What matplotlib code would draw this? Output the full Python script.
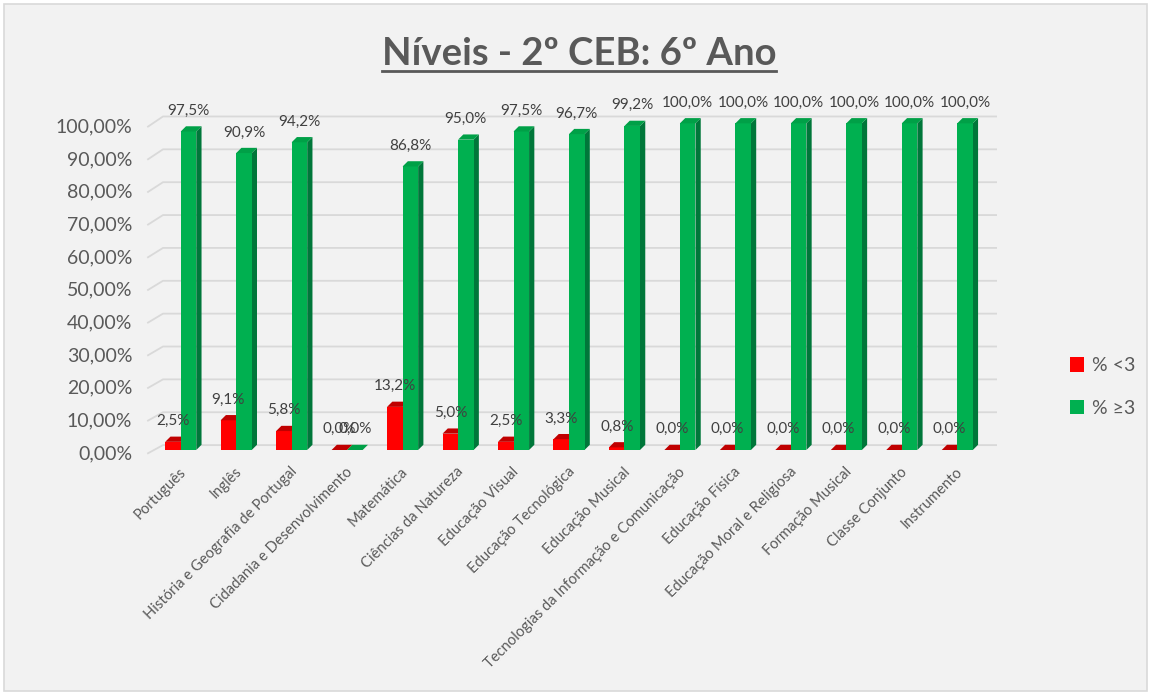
import numpy as np
import matplotlib
matplotlib.use("Agg")
import matplotlib.pyplot as plt
from matplotlib.patches import Polygon, Patch, Rectangle
from matplotlib.lines import Line2D
from matplotlib.transforms import ScaledTranslation

plt.rcParams['font.family'] = ['Lato', 'DejaVu Sans']

# ----------------------------
# DADOS
# ----------------------------
disciplinas = [
    "Português", "Inglês", "História e Geografia de Portugal",
    "Cidadania e Desenvolvimento", "Matemática", "Ciências da Natureza",
    "Educação Visual", "Educação Tecnológica", "Educação Musical",
    "Tecnologias da Informação e Comunicação", "Educação Física",
    "Educação Moral e Religiosa", "Formação Musical", "Classe Conjunto",
    "Instrumento",
]
abaixo_3 = [2.5, 9.1, 5.8, 0.0, 13.2, 5.0, 2.5, 3.3, 0.8, 0.0, 0.0, 0.0, 0.0, 0.0, 0.0]
acima_3 = [97.5, 90.9, 94.2, 0.0, 86.8, 95.0, 97.5, 96.7, 99.2, 100.0, 100.0, 100.0, 100.0, 100.0, 100.0]
series = ["% <3", "% ≥3"]
y_ticks = list(range(0, 101, 10))

# cores (frente, topo, lado)
cores = {
    "% <3": ("#FF0000", "#C00000", "#A80000"),
    "% ≥3": ("#00B050", "#00A047", "#00773A"),
}
txt_cinza = "#595959"

# ----------------------------
# FIGURA
# ----------------------------
W, H = 1152, 695
fig = plt.figure(figsize=(W / 100, H / 100), dpi=100, facecolor="white")
fig.patches.append(Rectangle((4 / W, 4 / H), 1143 / W, 687 / H, transform=fig.transFigure,
                             facecolor="#F2F2F2", edgecolor="#D9D9D9", lw=1.2, zorder=-10))

ax = fig.add_axes([153 / W, 1 - 450 / H, 832 / W, 343 / H])
ax.set_facecolor("none")
ax.set_xlim(-0.5, len(disciplinas) - 0.5)
ax.set_ylim(0, 105)
for s in ax.spines.values():
    s.set_visible(False)

# grelha "3D" (parede de fundo)
for v in y_ticks:
    yb = v + 1.5 + 0.006 * v
    ax.plot([-0.59, -0.32, 14.7], [v - 1.0, yb, yb], color="#D9D9D9", lw=1.3,
            clip_on=False, zorder=0)

larg = 0.28
dx, dy = 0.095, 1.6


def barra3d(x0, h, cor):
    frente, topo, lado = cor
    x1 = x0 + larg
    if h > 0:
        ax.add_patch(Polygon([(x1, 0), (x1 + dx, dy), (x1 + dx, h + dy), (x1, h)],
                             closed=True, facecolor=lado, edgecolor="none", zorder=2))
        ax.add_patch(Rectangle((x0, 0), larg, h, facecolor=frente, edgecolor="none", zorder=3))
    ax.add_patch(Polygon([(x0, h), (x0 + dx, h + dy), (x1 + dx, h + dy), (x1, h)],
                         closed=True, facecolor=topo, edgecolor="none", zorder=3))


x = np.arange(len(disciplinas))
for i in x:
    for k, (nome, vals) in enumerate(zip(series, [abaixo_3, acima_3])):
        x0 = i - larg + k * larg
        barra3d(x0, vals[i], cores[nome])
        ax.annotate(f"{vals[i]:.1f}%".replace(".", ","), (x0 + larg / 2, vals[i]),
                    xytext=(0, 12), textcoords="offset points", ha="center",
                    va="baseline", fontsize=11, color="#404040", zorder=5)

# eixo y
ax.set_yticks(y_ticks)
ax.set_yticklabels([f"{v:.2f}%".replace(".", ",") for v in y_ticks])
ax.tick_params(axis="y", length=0, pad=15, labelsize=14, labelcolor=txt_cinza)
for lbl in ax.get_yticklabels():
    lbl.set_transform(lbl.get_transform() + ScaledTranslation(0, -2 / 100, fig.dpi_scale_trans))

# eixo x
ax.set_xticks([])
for i, nome in enumerate(disciplinas):
    ax.text(i - 0.03, -4.5, nome, rotation=45, rotation_mode="anchor", ha="right", va="top",
            fontsize=10.6, color=txt_cinza)

# legenda
handles = [Patch(facecolor=cores[s][0], label=s) for s in series]
fig.legend(handles=handles, loc="center left", bbox_to_anchor=(1052 / W, 1 - 387 / H),
           frameon=False, fontsize=14, handlelength=0.75, handleheight=0.75,
           handletextpad=0.4, labelspacing=1.3, labelcolor=txt_cinza)

# titulo sublinhado
t = fig.text(579 / W, 1 - 65 / H, "Níveis - 2º CEB: 6º Ano", ha="center", va="baseline",
             fontsize=27.5, fontweight="bold", color=txt_cinza)
fig.canvas.draw()
bb = t.get_window_extent().transformed(fig.transFigure.inverted())
fig.lines.append(Line2D([bb.x0, bb.x1], [1 - 71 / H] * 2, transform=fig.transFigure,
                        color=txt_cinza, lw=2))

fig.savefig("out.png", dpi=100, facecolor=fig.get_facecolor())
